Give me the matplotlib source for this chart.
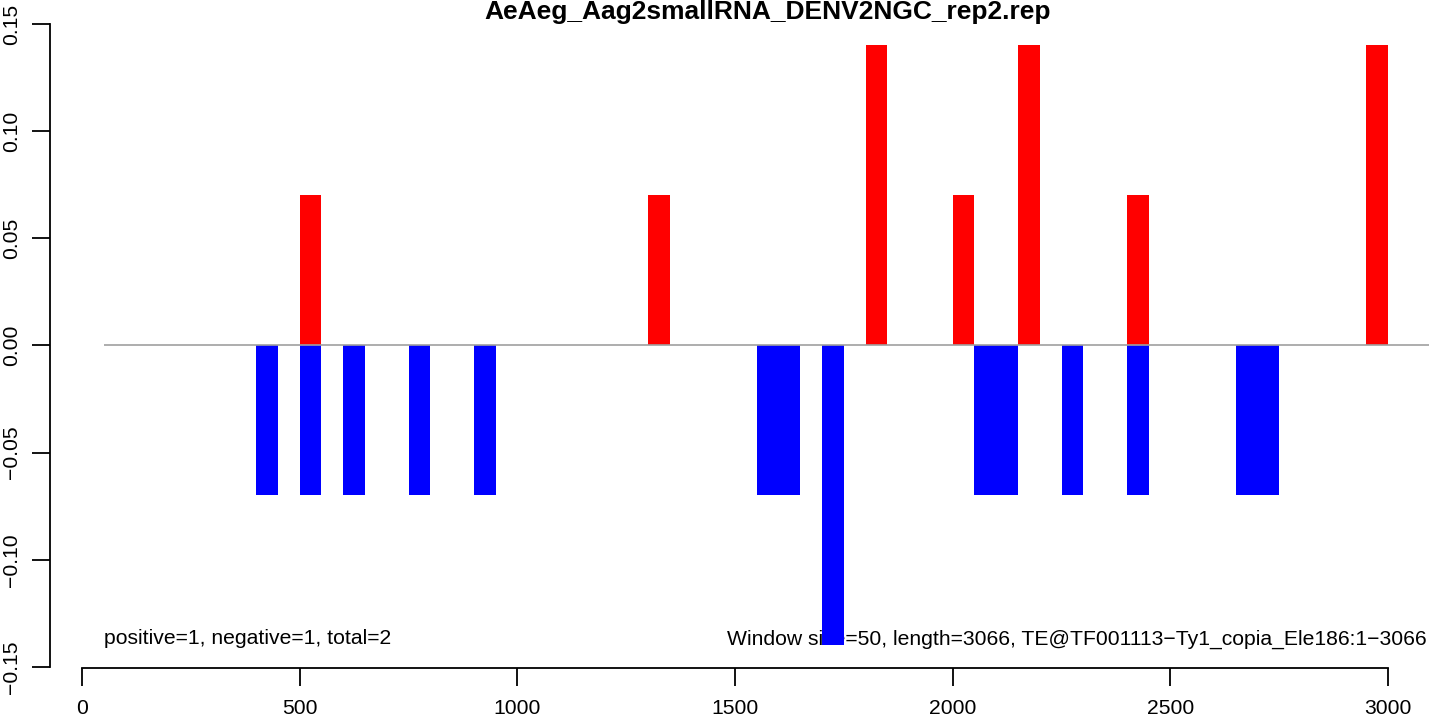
import matplotlib
matplotlib.use("Agg")
import matplotlib.pyplot as plt

# windows (start position, width 50) and normalised counts
pos_x = [500, 1300, 1800, 2000, 2150, 2400, 2950]
pos_y = [0.07, 0.07, 0.14, 0.07, 0.14, 0.07, 0.14]

neg_x = [400, 500, 600, 750, 900, 1550, 1600, 1700, 2050, 2100, 2250, 2400, 2650, 2700]
neg_y = [-0.07, -0.07, -0.07, -0.07, -0.07, -0.07, -0.07, -0.14,
         -0.07, -0.07, -0.07, -0.07, -0.07, -0.07]

window = 50
x_ticks = [0, 500, 1000, 1500, 2000, 2500, 3000]
y_ticks = [-0.15, -0.10, -0.05, 0.00, 0.05, 0.10, 0.15]
y_labels = ["\u22120.15", "\u22120.10", "\u22120.05", "0.00", "0.05", "0.10", "0.15"]

title = "AeAeg_Aag2smallRNA_DENV2NGC_rep2.rep"
left_note = "positive=1, negative=1, total=2"
right_note = "Window size=50, length=3066, TE@TF001113\u2212Ty1_copia_Ele186:1\u22123066"

plt.rcParams['font.family'] = ['Liberation Sans', 'DejaVu Sans']
plt.rcParams['font.size'] = 15.2

W, H = 1429, 716
fig = plt.figure(figsize=(W / 100, H / 100), dpi=100)
ax = fig.add_axes([50 / W, (H - 668) / H, (W - 50) / W, (668 - 24) / H])

ax.bar(pos_x, pos_y, width=window, align='edge', color='red', linewidth=0, zorder=2)
ax.bar(neg_x, neg_y, width=window, align='edge', color='blue', linewidth=0, zorder=2)
ax.hlines(0, 50, 3200, color='#a0a0a0', linewidth=1.2, zorder=3)

ax.set_xlim(-73.5, 3094)
ax.set_ylim(-0.1505, 0.15)

# notes sit under the bars
ax.text(50, -0.1395, left_note, ha='left', va='baseline', zorder=1)
ax.text(1481, -0.1395, right_note, ha='left', va='baseline', zorder=1, clip_on=False)

for s in ['top', 'right']:
    ax.spines[s].set_visible(False)
ax.spines['bottom'].set_bounds(0, 3000)
ax.spines['left'].set_bounds(-0.15, 0.15)
ax.spines['bottom'].set_linewidth(1.3)
ax.spines['left'].set_linewidth(1.3)

ax.set_xticks(x_ticks)
ax.set_yticks(y_ticks)
ax.set_yticklabels(y_labels)
ax.tick_params(length=13, width=1.3, direction='out')
ax.tick_params(axis='x', pad=9)
ax.tick_params(axis='y', pad=8, labelrotation=90)
for lab in ax.get_yticklabels():
    lab.set_va('center')

fig.text(768 / W, 1 - 19 / H, title, ha='center', va='baseline',
         fontweight='bold', fontsize=19)

fig.savefig("out.png", dpi=100)
